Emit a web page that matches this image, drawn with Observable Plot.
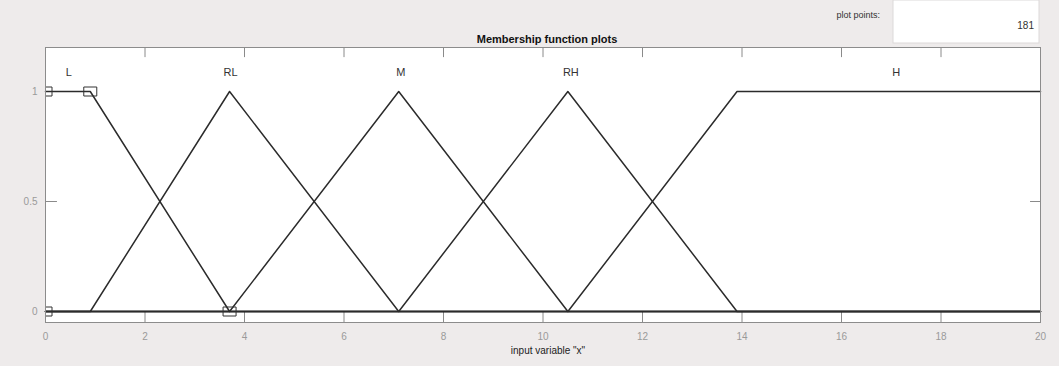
<!DOCTYPE html>
<html>
<head>
<meta charset="utf-8">
<script src="https://cdn.jsdelivr.net/npm/d3@7"></script>
<script src="https://cdn.jsdelivr.net/npm/@observablehq/plot@0.6"></script>
<style>
  html, body { margin: 0; padding: 0; background: #eeebeb; }
  #chart { width: 1059px; height: 366px; }
</style>
</head>
<body>
<div id="chart"></div>
<script>
// Membership functions of input variable "x", given by their breakpoints over [0, 20]
const mfNames = ["L", "RL", "M", "RH", "H"];
const mfX = [
  [0, 0.9, 3.7, 20],
  [0, 0.9, 3.7, 7.1, 20],
  [0, 3.7, 7.1, 10.5, 20],
  [0, 7.1, 10.5, 13.9, 20],
  [0, 10.5, 13.9, 20]
];
const mfY = [
  [1, 1, 0, 0],
  [0, 0, 1, 0, 0],
  [0, 0, 1, 0, 0],
  [0, 0, 1, 0, 0],
  [0, 0, 1, 1]
];
// Where each membership function name is written
const labelX = [0.47, 3.72, 7.14, 10.56, 17.1];
const labelY = 1.085;

// Parameter handles of the selected function (L)
const handleX = [0, 0, 0.9, 3.7];
const handleY = [1, 0, 1, 0];

const xTicks = [0, 2, 4, 6, 8, 10, 12, 14, 16, 18, 20];
const yTicks = [0, 0.5, 1];
const plotPoints = 181;

const curves = mfNames.flatMap((name, i) =>
  mfX[i].map((x, j) => ({name, x, y: mfY[i][j]}))
);
const labels = mfNames.map((name, i) => ({name, x: labelX[i], y: labelY}));
const handles = handleX.map((x, i) => ({x, y: handleY[i]}));

// Small rectangular handle glyph
const handleSymbol = {
  draw(context) {
    context.moveTo(-6.5, -4.5);
    context.lineTo(6.5, -4.5);
    context.lineTo(6.5, 4.5);
    context.lineTo(-6.5, 4.5);
    context.closePath();
  }
};

const lineColor = "#2b2b2b";
const tickColor = "#8a8a8a";

const plot = Plot.plot({
  width: 1059,
  height: 366,
  marginLeft: 45,
  marginRight: 19,
  marginTop: 47,
  marginBottom: 44,
  style: {fontFamily: "'Liberation Sans', Arial, sans-serif", background: "transparent"},
  x: {domain: [0, 20], ticks: xTicks},
  y: {domain: [-0.05, 1.2], ticks: yTicks},
  marks: [
    Plot.frame({fill: "white", stroke: "none"}),
    // inward ticks on all four sides
    Plot.ruleX(xTicks, {x: d => d, y1: -0.05, y2: 0, stroke: tickColor, strokeWidth: 1}),
    Plot.ruleX(xTicks, {x: d => d, y1: 1.2, y2: 1.154, stroke: tickColor, strokeWidth: 1}),
    Plot.ruleY(yTicks, {y: d => d, x1: 0, x2: 0.24, stroke: tickColor, strokeWidth: 1}),
    Plot.ruleY(yTicks, {y: d => d, x1: 19.8, x2: 20, stroke: tickColor, strokeWidth: 1}),
    Plot.axisX({ticks: xTicks, tickSize: 0, tickPadding: 10, fontSize: 10, color: "#9a9a9a", label: null}),
    Plot.axisY({ticks: yTicks, tickSize: 0, tickPadding: 8, fontSize: 10, color: "#9a9a9a", label: null, tickFormat: d => String(d)}),
    Plot.line(curves, {x: "x", y: "y", z: "name", stroke: lineColor, strokeWidth: 1.5}),
    Plot.dot(handles, {x: "x", y: "y", symbol: handleSymbol, r: 1, stroke: "#333", strokeWidth: 1, fill: "none", clip: "frame"}),
    Plot.text(labels, {x: "x", y: "y", text: "name", fontSize: 11, fill: "#333"}),
    Plot.frame({stroke: "#8c8c8c", strokeWidth: 1}),
    Plot.text(["Membership function plots"], {frameAnchor: "top", dx: 4, dy: -12, fontSize: 11, fontWeight: "bold", fill: "#111"}),
    Plot.text(['input variable "x"'], {frameAnchor: "bottom", dx: 5, dy: 31, fontSize: 10, fill: "#222"})
  ]
});

document.getElementById("chart").appendChild(plot);

// "plot points" field above the top-right corner of the axes
const svg = d3.select(plot);
svg.append("rect")
  .attr("x", 893).attr("y", 0).attr("width", 146).attr("height", 43)
  .attr("fill", "white").attr("stroke", "#dcd9d9");
svg.append("text")
  .attr("x", 880).attr("y", 18)
  .attr("text-anchor", "end")
  .attr("font-size", 9).attr("fill", "#333")
  .text("plot points:");
svg.append("text")
  .attr("x", 1034).attr("y", 29)
  .attr("text-anchor", "end")
  .attr("font-size", 10).attr("fill", "#333")
  .text(plotPoints);
</script>
</body>
</html>
